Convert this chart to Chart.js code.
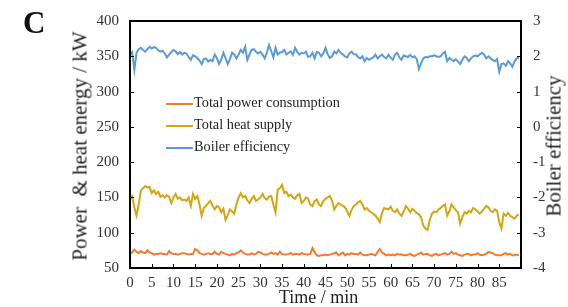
<!DOCTYPE html>
<html>
<head>
<meta charset="utf-8">
<script src="https://cdn.jsdelivr.net/npm/chart.js@4"></script>
<style>
  body { margin: 0; background: #fff; }
  #wrap { position: relative; width: 568px; height: 307px; font-family: "Liberation Serif", serif; color: #222; }
  #chart { position: absolute; left: 0; top: 0; }
  .txt { position: absolute; white-space: pre; line-height: 1; }
  .rot { transform: translate(-50%, -50%) rotate(-90deg); }
  .leg { position: absolute; left: 166px; font-size: 14.3px; white-space: pre; }
  .leg span { display: inline-block; width: 27px; height: 2px; vertical-align: middle; margin-right: 1px; }
</style>
</head>
<body>
<div id="wrap">
  <canvas id="chart" width="568" height="307"></canvas>
  <div class="txt" style="left:23px;top:7px;font-size:31px;font-weight:bold;color:#111;">C</div>
  <div class="txt rot" style="left:80px;top:146px;font-size:21px;">Power  &amp; heat energy / kW</div>
  <div class="txt rot" style="left:554px;top:146px;font-size:21px;">Boiler efficiency</div>
  <div class="txt" style="left:279px;top:288px;font-size:18px;">Time / min</div>
  <div class="leg" style="top:94px;"><span style="background:#ED7D31"></span>Total power consumption</div>
  <div class="leg" style="top:116px;"><span style="background:#D4A514"></span>Total heat supply</div>
  <div class="leg" style="top:138px;"><span style="background:#5B9BD5"></span>Boiler efficiency</div>
</div>
<script>
// one reading every 0.5 min, rows of 10 = 5 minutes
const step = 0.5;

const heatSupply = [
    148, 152, 136, 124, 140, 160, 163, 166, 164, 165,
    156, 160, 155, 158, 151, 153, 150, 153, 151, 142,
    150, 155, 148, 150, 146, 147, 145, 150, 138, 155,
    148, 152, 140, 124, 135, 138, 142, 145, 138, 133,
    138, 136, 129, 134, 118, 125, 133, 130, 127, 140,
    150, 156, 150, 152, 146, 142, 148, 152, 145, 147,
    150, 155, 149, 147, 151, 152, 140, 129, 161, 163,
    168, 156, 158, 152, 154, 150, 148, 153, 155, 142,
    145, 150, 148, 140, 138, 145, 147, 140, 138, 145,
    148, 150, 152, 146, 133, 138, 142, 140, 138, 136,
    130, 124, 132, 138, 140, 143, 145, 140, 133, 135,
    131, 129, 127, 124, 120, 115, 128, 135, 134, 133,
    137, 131, 129, 133, 127, 124, 130, 138, 134, 129,
    134, 131, 128, 126, 122, 110, 106, 104, 118, 127,
    130, 129, 133, 135, 138, 140, 124, 130, 140, 136,
    132, 129, 113, 122, 129, 127, 131, 129, 135, 133,
    130, 127, 130, 134, 138, 136, 131, 129, 133, 131,
    115, 106, 127, 124, 128, 124, 122, 120, 124, 126
];

const powerUse = [
    70, 72, 76, 73, 71, 74, 72, 71, 75, 72,
    71, 69, 70, 70, 71, 70, 70, 69, 74, 71,
    70, 70, 69, 70, 71, 71, 70, 69, 70, 70,
    77, 75, 71, 70, 69, 70, 71, 70, 70, 73,
    70, 69, 73, 71, 70, 69, 68, 70, 69, 71,
    72, 75, 72, 70, 69, 69, 71, 69, 70, 73,
    72, 70, 69, 69, 70, 72, 70, 71, 69, 73,
    70, 69, 69, 70, 71, 69, 70, 70, 69, 71,
    70, 69, 69, 70, 78, 72, 68, 67, 68, 68,
    69, 68, 69, 70, 71, 72, 68, 70, 72, 68,
    70, 69, 71, 70, 70, 69, 72, 69, 68, 68,
    69, 70, 69, 68, 73, 77, 72, 70, 68, 69,
    68, 69, 68, 70, 69, 69, 68, 68, 69, 70,
    68, 67, 69, 70, 72, 69, 70, 70, 68, 67,
    69, 70, 68, 69, 70, 71, 69, 70, 73, 70,
    71, 69, 68, 67, 69, 70, 70, 68, 69, 69,
    71, 69, 68, 69, 70, 73, 72, 71, 69, 68,
    68, 68, 70, 71, 69, 70, 68, 68, 69, 68
];

const boilerEff = [
    2.05, 2.12, 1.62, 2.10, 2.20, 2.24, 2.18, 2.13, 2.20, 2.27,
    2.22, 2.26, 2.24, 2.17, 2.13, 2.16, 2.08, 1.97, 2.05, 2.12,
    2.18, 2.14, 2.06, 2.12, 2.05, 2.10, 2.08, 1.98, 1.90, 2.03,
    2.00, 1.95, 1.88, 1.78, 1.92, 1.94, 1.85, 1.90, 1.86, 2.05,
    1.95, 1.78, 1.90, 2.10, 1.95, 1.78, 1.92, 2.10, 2.05, 1.94,
    2.05, 2.18, 2.10, 2.27, 1.90, 2.05, 2.18, 2.20, 2.13, 2.08,
    2.13, 2.05, 1.94, 2.10, 2.32, 2.15, 1.97, 2.24, 2.05, 2.10,
    2.12, 2.18, 2.05, 2.10, 2.14, 2.04, 2.24, 2.12, 2.05, 2.10,
    2.08, 2.13, 1.98, 2.00, 2.10, 1.94, 2.12, 2.10, 2.00, 2.08,
    2.24, 2.06, 1.95, 2.00, 2.13, 2.08, 2.18, 2.10, 2.05, 2.00,
    1.97, 2.08, 2.13, 2.06, 2.05, 1.98, 1.94, 2.00, 1.86, 1.95,
    1.90, 1.94, 1.97, 2.05, 1.94, 2.00, 2.05, 1.98, 1.94, 2.04,
    1.96, 1.90, 2.05, 2.10, 1.97, 1.90, 2.02, 2.00, 1.98, 2.04,
    1.97, 2.00, 1.92, 1.64, 1.80, 1.94, 1.98, 1.97, 2.00, 2.00,
    2.03, 2.00, 1.98, 2.00, 2.08, 2.13, 1.86, 1.95, 1.90, 1.86,
    1.92, 1.85, 1.78, 1.90, 2.00, 1.96, 1.86, 1.94, 2.00, 2.02,
    2.00, 2.05, 2.10, 2.05, 1.94, 2.00, 1.94, 1.90, 1.86, 1.92,
    1.56, 1.78, 1.80, 1.73, 1.86, 1.80, 1.70, 1.85, 1.94, 1.96
];

const xTicks = [0, 5, 10, 15, 20, 25, 30, 35, 40, 45, 50, 55, 60, 65, 70, 75, 80, 85];

const pts = arr => arr.map((v, i) => ({ x: i * step, y: v }));
const serif = "'Liberation Serif', 'Times New Roman', serif";

// frame plus small inward tick marks, placed through the scales
const frame = {
    id: "frame",
    afterDraw(chart) {
        const { ctx, chartArea: a, scales } = chart;
        ctx.save();
        ctx.strokeStyle = "#000";
        ctx.lineWidth = 1;
        scales.y.ticks.forEach(t => {
            const y = Math.round(scales.y.getPixelForValue(t.value)) + 0.5;
            ctx.beginPath(); ctx.moveTo(a.left, y); ctx.lineTo(a.left + 4, y); ctx.stroke();
        });
        scales.y2.ticks.forEach(t => {
            const y = Math.round(scales.y2.getPixelForValue(t.value)) + 0.5;
            ctx.beginPath(); ctx.moveTo(a.right, y); ctx.lineTo(a.right - 4, y); ctx.stroke();
        });
        scales.x.ticks.forEach(t => {
            const x = Math.round(scales.x.getPixelForValue(t.value)) + 0.5;
            ctx.beginPath(); ctx.moveTo(x, a.bottom); ctx.lineTo(x, a.bottom - 4); ctx.stroke();
        });
        ctx.lineWidth = 2;
        ctx.strokeRect(a.left, a.top, a.right - a.left, a.bottom - a.top);
        ctx.restore();
    }
};

new Chart(document.getElementById("chart"), {
    type: "line",
    data: {
        datasets: [{
            label: "Total power consumption",
            data: pts(powerUse),
            borderColor: "#ED7D31",
            yAxisID: "y"
        }, {
            label: "Total heat supply",
            data: pts(heatSupply),
            borderColor: "#D4A514",
            yAxisID: "y"
        }, {
            label: "Boiler efficiency",
            data: pts(boilerEff),
            borderColor: "#5B9BD5",
            yAxisID: "y2"
        }]
    },
    options: {
        responsive: false,
        animation: false,
        layout: { padding: { top: 10, left: 0, right: 0, bottom: 0 } },
        elements: {
            point: { radius: 0 },
            line: { borderWidth: 2, tension: 0 }
        },
        plugins: { legend: { display: false }, tooltip: { enabled: false } },
        scales: {
            x: {
                type: "linear",
                min: 0,
                max: 90,
                afterBuildTicks: s => { s.ticks = xTicks.map(v => ({ value: v })); },
                afterFit: s => { s.height = 39; },
                grid: { display: false, drawTicks: false },
                border: { display: false },
                ticks: { padding: 6, color: "#333", font: { family: serif, size: 15 }, maxRotation: 0, autoSkip: false }
            },
            y: {
                position: "left",
                min: 50,
                max: 400,
                ticks: { stepSize: 50, padding: 11, color: "#333", font: { family: serif, size: 15 } },
                afterFit: s => { s.width = 130; },
                grid: { display: false, drawTicks: false },
                border: { display: false }
            },
            y2: {
                position: "right",
                min: -4,
                max: 3,
                ticks: { stepSize: 1, padding: 12, color: "#333", font: { family: serif, size: 15 } },
                afterFit: s => { s.width = 47; },
                grid: { display: false, drawTicks: false },
                border: { display: false }
            }
        }
    },
    plugins: [frame]
});
</script>
</body>
</html>
